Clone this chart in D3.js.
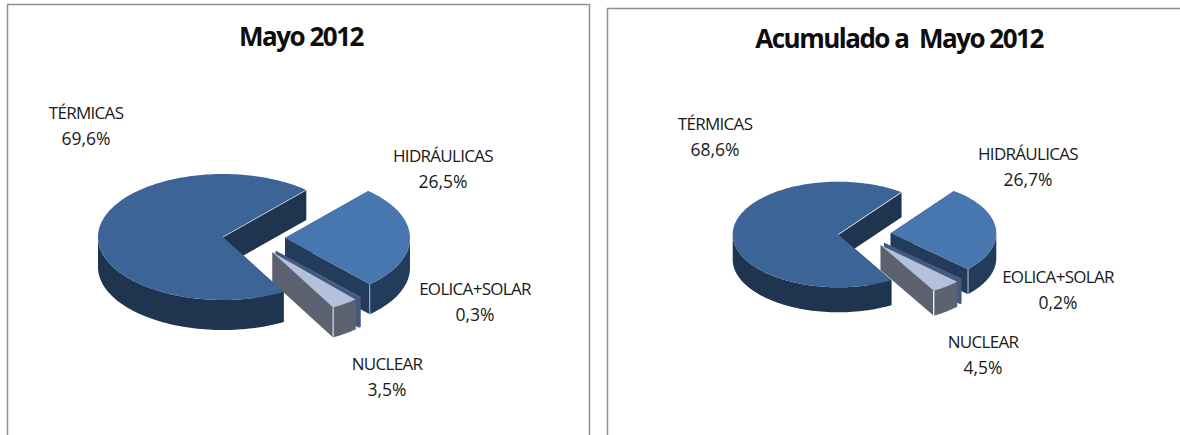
<!DOCTYPE html>
<html>
<head>
<meta charset="utf-8">
<script src="https://cdnjs.cloudflare.com/ajax/libs/d3/7.8.5/d3.min.js"></script>
<style>
  html, body { margin: 0; padding: 0; background: #fff; overflow: hidden; }
  svg { display: block; }
  .title { font: bold 26px "Open Sans", sans-serif; letter-spacing: -1.5px; text-anchor: middle; fill: #0d0d0d; white-space: pre; }
  .lbl { font: 17px "Open Sans", sans-serif; letter-spacing: -0.7px; text-anchor: middle; fill: #1a1a1a; }
  .val { font: 17.5px "Open Sans", sans-serif; text-anchor: middle; fill: #1a1a1a; }
</style>
</head>
<body>
<svg id="chart" width="1180" height="435"></svg>
<script>
var categories = ["HIDRÁULICAS", "EOLICA+SOLAR", "NUCLEAR", "TÉRMICAS"];
var valuesMayo = [26.5, 0.3, 3.5, 69.6];
var valuesAcum = [26.7, 0.2, 4.5, 68.6];
var titleMayo = "Mayo 2012";
var titleAcum = "Acumulado a  Mayo 2012";

var topColors = ["#4876ae", "#4f6b98", "#b3c1dc", "#3c6496"];
var wallColors = ["#243c5c", "#46597c", "#5c626f", "#1f344f"];

// layout of each panel
var layoutMayo = {
  title: [301, 46], cx: 223, cy: 237, rx: 125, ry: 63, depth: 30, start: 41.8,
  explode: [[62, 1], [52.7, 13.7], [49.5, 15.3], [0, 0]],
  labels: [[443, 162], [475, 295], [387, 370], [86, 119]],
  edge: "#d5dce8"
};
var layoutAcum = {
  title: [899, 48], cx: 838.3, cy: 234.5, rx: 105.6, ry: 52.8, depth: 25, start: 36.8,
  explode: [[52.4, -1.3], [45.7, 8.3], [42.4, 10.7], [0, 0]],
  labels: [[1028, 160], [1058, 283], [983, 348], [715, 130]],
  edge: "#ffffff"
};

var svg = d3.select("#chart");

// panel frames, no bottom edge and the right one runs off the page
svg.append("path")
  .attr("d", "M7.5,435V4.5H589.5V435M607.5,435V8.5H1180")
  .attr("fill", "none")
  .attr("stroke", "#8f8f8f")
  .attr("stroke-width", 1.5);

function drawPie(values, title, lay) {

  var g = svg.append("g");

  var x = d3.scaleLinear().domain([-1, 1]).range([lay.cx - lay.rx, lay.cx + lay.rx]);
  var y = d3.scaleLinear().domain([-1, 1]).range([lay.cy - lay.ry, lay.cy + lay.ry]);

  var pie = d3.pie().sort(null)
    .startAngle(lay.start * Math.PI / 180)
    .endAngle(lay.start * Math.PI / 180 + 2 * Math.PI);

  var line = d3.line();

  // point on the rim, pie angles run clockwise from 12 o'clock
  function rim(a, ox, oy, dz) {
    return [x(Math.sin(a)) + ox, y(-Math.cos(a)) + oy + dz];
  }

  function arcPts(a0, a1, ox, oy, dz) {
    var n = Math.max(2, Math.ceil((a1 - a0) / 0.03));
    return d3.range(n + 1).map(function(i) { return rim(a0 + (a1 - a0) * i / n, ox, oy, dz); });
  }

  pie(values).forEach(function(d) {
    var i = d.index;
    var ox = lay.explode[i][0], oy = lay.explode[i][1];
    var apex = [lay.cx + ox, lay.cy + oy];
    var apexLow = [apex[0], apex[1] + lay.depth];
    var s = g.append("g");

    // straight cut faces
    [d.startAngle, d.endAngle].forEach(function(a) {
      s.append("path")
        .attr("d", line([apex, rim(a, ox, oy, 0), rim(a, ox, oy, lay.depth), apexLow]) + "Z")
        .attr("fill", wallColors[i]);
    });

    // outer wall, only the front half of the rim shows (pi/2 to 3pi/2)
    var w0 = Math.max(d.startAngle, Math.PI / 2), w1 = Math.min(d.endAngle, 3 * Math.PI / 2);
    if (w1 > w0) {
      s.append("path")
        .attr("d", line(arcPts(w0, w1, ox, oy, 0).concat(arcPts(w0, w1, ox, oy, lay.depth).reverse())) + "Z")
        .attr("fill", wallColors[i]);
    }

    s.append("path")
      .attr("d", line([apex].concat(arcPts(d.startAngle, d.endAngle, ox, oy, 0))) + "Z")
      .attr("fill", topColors[i]);

    // thin light edges where the faces meet
    if (i == 3) {
      s.append("path")
        .attr("d", line([apex, rim(d.endAngle, ox, oy, 0)]))
        .attr("stroke", lay.edge).attr("stroke-width", 0.8).attr("fill", "none");
    }
    if (i == 0 || i == 2) {
      var c = rim(d.endAngle, ox, oy, 0);
      s.append("line")
        .attr("x1", c[0]).attr("y1", c[1])
        .attr("x2", c[0]).attr("y2", c[1] + lay.depth)
        .attr("stroke", lay.edge)
        .attr("stroke-width", i == 2 ? 1.2 : 0.7);
    }
  });

  g.append("text").attr("class", "title")
    .attr("x", lay.title[0]).attr("y", lay.title[1])
    .text(title);

  categories.forEach(function(c, i) {
    g.append("text").attr("class", "lbl")
      .attr("x", lay.labels[i][0]).attr("y", lay.labels[i][1])
      .text(c);
    g.append("text").attr("class", "val")
      .attr("x", lay.labels[i][0]).attr("y", lay.labels[i][1] + 26)
      .text(values[i].toFixed(1).replace(".", ",") + "%");
  });
}

drawPie(valuesMayo, titleMayo, layoutMayo);
drawPie(valuesAcum, titleAcum, layoutAcum);
</script>
</body>
</html>
